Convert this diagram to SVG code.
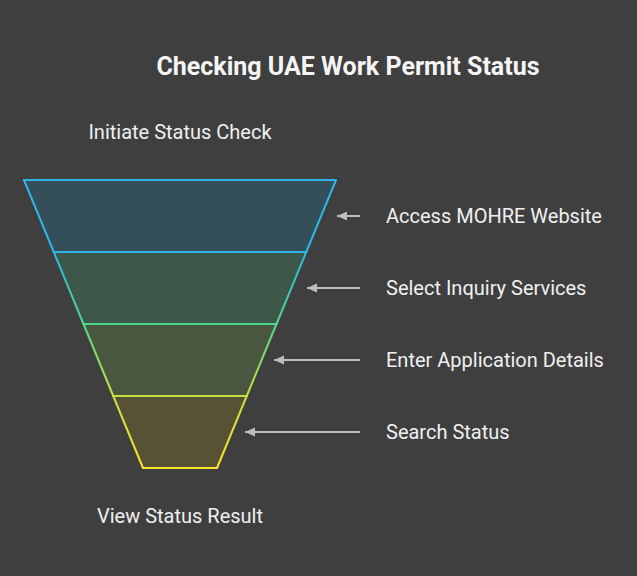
<svg xmlns="http://www.w3.org/2000/svg" width="637" height="576" viewBox="0 0 637 576">
<defs>
<linearGradient id="edge" gradientUnits="userSpaceOnUse" x1="0" y1="180" x2="0" y2="468">
<stop offset="0" stop-color="#2CB6E6"/>
<stop offset="0.25" stop-color="#2CB6E6"/>
<stop offset="0.5" stop-color="#4FD68E"/>
<stop offset="0.75" stop-color="#C6E03C"/>
<stop offset="1" stop-color="#F8E42A"/>
</linearGradient>
<marker id="ah" markerWidth="12" markerHeight="12" refX="10" refY="6" orient="auto" markerUnits="userSpaceOnUse">
<path d="M0,1.5 L10,6 L0,10.5 Z" fill="#bdbdbd"/>
</marker>
<style>
.t{font-family:Roboto,"Liberation Sans",sans-serif;fill:#f0f0f0;font-size:20px}
.h{font-family:Roboto,"Liberation Sans",sans-serif;fill:#f5f5f5;font-size:25px;font-weight:bold}
.band{stroke:url(#edge);stroke-width:2;stroke-linejoin:round}
.c{stroke:#bdbdbd;stroke-width:2;fill:none;marker-end:url(#ah)}
</style>
</defs>
<rect width="637" height="576" fill="#3f3f3f"/>
<text class="h" x="348" y="75" text-anchor="middle">Checking UAE Work Permit Status</text>
<text class="t" x="180" y="139" text-anchor="middle">Initiate Status Check</text>
<text class="t" x="180" y="523" text-anchor="middle">View Status Result</text>
<g id="band1"><path class="band" d="M24,180 L336,180 L306.25,252 L53.75,252 Z" fill="#344E5A"/><text class="t" x="386" y="223">Access MOHRE Website</text></g>
<g id="band2"><path class="band" d="M53.75,252 L306.25,252 L276.5,324 L83.5,324 Z" fill="#3D5749"/><text class="t" x="386" y="295">Select Inquiry Services</text></g>
<g id="band3"><path class="band" d="M83.5,324 L276.5,324 L246.75,396 L113.25,396 Z" fill="#4B5640"/><text class="t" x="386" y="367">Enter Application Details</text></g>
<g id="band4"><path class="band" d="M113.25,396 L246.75,396 L217,468 L143,468 Z" fill="#575136"/><text class="t" x="386" y="439">Search Status</text></g>
<g id="connectors">
<line class="c" x1="360" y1="216" x2="337" y2="216"/>
<line class="c" x1="360" y1="288" x2="307" y2="288"/>
<line class="c" x1="360" y1="360" x2="274" y2="360"/>
<line class="c" x1="360" y1="432" x2="245" y2="432"/>
</g>
</svg>
